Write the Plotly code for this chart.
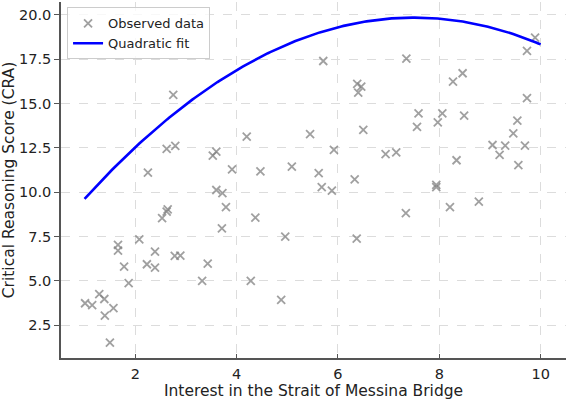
import numpy as np
import plotly.graph_objects as go

interest = [1.01, 1.15, 1.29, 1.39, 1.40, 1.50, 1.57, 1.66, 1.66, 1.78,
            1.87, 2.08, 2.23, 2.25, 2.39, 2.39, 2.53, 2.62, 2.64, 2.62,
            2.79, 2.75, 2.78, 2.89, 3.32, 3.43, 3.53, 3.60, 3.60, 3.72,
            3.79, 3.71, 3.91, 4.20, 4.28, 4.37, 4.47, 4.88, 4.96, 5.09,
            5.45, 5.62, 5.68, 5.71, 5.88, 5.92, 6.33, 6.37, 6.38, 6.46,
            6.40, 6.50, 6.94, 7.15, 7.35, 7.34, 7.56, 7.59, 7.94, 7.94,
            7.97, 8.06, 8.21, 8.27, 8.34, 8.46, 8.49, 8.78, 9.05, 9.19,
            9.30, 9.46, 9.54, 9.56, 9.69, 9.73, 9.73, 9.89]
score = [3.73, 3.63, 4.24, 3.97, 3.03, 1.51, 3.45, 7.02, 6.70, 5.80,
         4.86, 7.34, 5.93, 11.10, 6.64, 5.74, 8.53, 8.90, 9.03, 12.44,
         12.61, 15.49, 6.40, 6.42, 4.99, 5.97, 12.06, 12.29, 10.12, 9.94,
         9.15, 7.96, 11.29, 13.13, 4.99, 8.56, 11.17, 3.92, 7.49, 11.44,
         13.27, 11.07, 10.28, 17.40, 10.09, 12.38, 10.72, 7.38, 16.11, 15.95,
         15.61, 13.51, 12.14, 12.25, 17.53, 8.81, 13.68, 14.45, 10.41, 10.28,
         13.94, 14.45, 9.15, 16.24, 11.80, 16.71, 14.32, 9.46, 12.66, 12.10,
         12.62, 13.32, 14.04, 11.53, 12.62, 15.30, 17.97, 18.72]

# Quadratic fit shown in the chart (vertex form)
fit_a = -0.242
fit_vertex_x = 7.5
fit_vertex_y = 19.85
fit_x_start = 1.0
fit_x_end = 10.0

x_ticks = [2, 4, 6, 8, 10]
y_ticks = [2.5, 5.0, 7.5, 10.0, 12.5, 15.0, 17.5, 20.0]

fit_x = np.linspace(fit_x_start, fit_x_end, 200)
fit_y = fit_a * (fit_x - fit_vertex_x) ** 2 + fit_vertex_y

font = "DejaVu Sans, Arial, sans-serif"
axis_col = "#555555"
grid_col = "#dcdcdc"

fig = go.Figure()
fig.add_trace(go.Scatter(
    x=interest, y=score, mode="markers", name="Observed data",
    marker=dict(symbol="x-thin-open", size=8, color="rgba(128,128,128,0.75)",
                line=dict(width=1.8, color="rgba(128,128,128,0.75)")),
))
fig.add_trace(go.Scatter(
    x=fit_x, y=fit_y, mode="lines", name="Quadratic fit",
    line=dict(color="#0000ff", width=2.6),
))

fig.update_layout(
    width=567, height=401,
    margin=dict(l=61, r=1, t=2, b=43),
    paper_bgcolor="white", plot_bgcolor="white",
    font=dict(family=font, size=14, color="#222222"),
    showlegend=True,
    legend=dict(x=0.012, y=0.985, xanchor="left", yanchor="top",
                bgcolor="rgba(255,255,255,0.8)", bordercolor="#cccccc",
                borderwidth=1, font=dict(size=13, color="#222222"),
                tracegroupgap=0, itemwidth=30),
    xaxis=dict(
        range=[0.535, 10.5], tickvals=x_ticks, ticktext=[str(t) for t in x_ticks],
        showgrid=True, gridcolor=grid_col, griddash="dash", gridwidth=1,
        showline=True, linecolor=axis_col, linewidth=1.5,
        ticks="inside", ticklen=4, tickcolor=axis_col, tickwidth=1.2,
        zeroline=False, ticklabelstandoff=2,
        title=dict(text="Interest in the Strait of Messina Bridge", standoff=4,
                   font=dict(size=15.5)),
        tickfont=dict(size=14.5),
    ),
    yaxis=dict(
        range=[0.64, 20.73], tickvals=y_ticks, ticktext=[f"{t:.1f}" for t in y_ticks],
        showgrid=True, gridcolor=grid_col, griddash="dash", gridwidth=1,
        showline=True, linecolor=axis_col, linewidth=1.5,
        ticks="outside", ticklen=5, tickcolor=axis_col, tickwidth=1.2,
        zeroline=False,
        title=dict(text="Critical Reasoning Score (CRA)", standoff=6,
                   font=dict(size=15.5)),
        tickfont=dict(size=14.5),
    ),
)

fig.write_html("out.html")
